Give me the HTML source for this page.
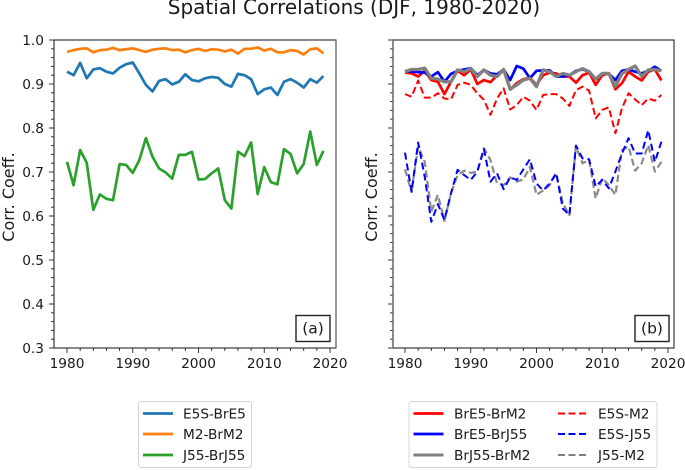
<!DOCTYPE html>
<html>
<head>
<meta charset="utf-8">
<title>Spatial Correlations</title>
<style>
html,body{margin:0;padding:0;background:#fff;}
svg{display:block;}
text{font-family:"DejaVu Sans","Liberation Sans",sans-serif;fill:#1a1a1a;}
</style>
</head>
<body>
<svg id="chart" xmlns="http://www.w3.org/2000/svg" width="685" height="470" viewBox="0 0 685 470">
  <text x="354" y="14" font-size="20" text-anchor="middle">Spatial Correlations (DJF, 1980-2020)</text>
  <g id="panelA"></g>
  <g id="panelB"></g>
  <g id="legendA"></g>
  <g id="legendB"></g>
</svg>
<script>
const startYear = 1980;
const xTickLabels = [1980, 1990, 2000, 2010, 2020];
const yTickLabels = ['0.3', '0.4', '0.5', '0.6', '0.7', '0.8', '0.9', '1.0'];

const e5sBre5 = [.928,.920,.948,.913,.933,.936,.928,.924,.937,.945,.949,.924,.898,.883,.907,.911,.899,.905,.922,.909,.906,.913,.916,.914,.900,.894,.923,.920,.911,.877,.888,.892,.875,.905,.911,.903,.892,.911,.903,.918];
const m2Brm2 = [.973,.977,.980,.981,.972,.977,.978,.982,.977,.979,.981,.977,.973,.978,.980,.981,.977,.978,.972,.977,.980,.975,.979,.978,.974,.978,.969,.980,.980,.983,.976,.980,.972,.972,.977,.975,.967,.979,.981,.970];
const j55Brj55 = [.723,.670,.750,.721,.614,.649,.639,.636,.718,.716,.698,.727,.777,.735,.708,.699,.685,.739,.739,.746,.683,.684,.697,.708,.636,.617,.746,.736,.767,.650,.711,.677,.672,.752,.741,.697,.718,.792,.716,.748];

const bre5Brm2 = [.926,.924,.917,.930,.909,.905,.877,.905,.930,.920,.933,.900,.909,.904,.920,.933,.888,.902,.911,.914,.898,.920,.926,.924,.917,.917,.903,.920,.926,.898,.920,.924,.888,.902,.928,.917,.908,.928,.933,.908];
const bre5Brj55 = [.930,.928,.927,.926,.917,.927,.905,.923,.930,.933,.936,.920,.932,.924,.922,.933,.909,.941,.935,.913,.930,.931,.931,.917,.917,.920,.930,.933,.928,.911,.924,.923,.909,.930,.933,.928,.924,.930,.939,.930];
const brj55Brm2 = [.928,.933,.933,.936,.913,.911,.905,.905,.932,.928,.935,.917,.932,.920,.917,.933,.888,.898,.909,.913,.894,.932,.928,.917,.924,.920,.928,.935,.928,.911,.924,.924,.895,.924,.933,.941,.917,.932,.933,.930];
const e5sM2 = [.877,.871,.908,.869,.869,.879,.867,.865,.898,.903,.898,.879,.864,.830,.867,.890,.842,.852,.871,.862,.841,.875,.877,.877,.867,.850,.886,.894,.885,.822,.841,.847,.788,.845,.879,.865,.852,.867,.862,.875];
const e5sJ55 = [.744,.655,.767,.689,.587,.627,.591,.652,.705,.693,.682,.701,.752,.678,.697,.661,.688,.682,.706,.729,.674,.658,.674,.697,.617,.602,.760,.731,.729,.667,.682,.663,.701,.742,.777,.742,.742,.795,.723,.769];
const j55M2 = [.706,.655,.758,.723,.610,.648,.589,.652,.693,.703,.698,.701,.754,.727,.674,.670,.688,.678,.683,.712,.648,.658,.670,.698,.629,.602,.758,.720,.727,.640,.686,.670,.648,.750,.758,.703,.720,.761,.701,.723];

const NS = 'http://www.w3.org/2000/svg';
const yOf = v => 40 + (1.0 - v) * 440;
const xA = yr => 67 + (yr - 1980) * 6.575;
const xB = yr => 405 + (yr - 1980) * 6.575;

function mk(parent, tag, attrs, txt) {
  const el = document.createElementNS(NS, tag);
  for (const k in attrs) el.setAttribute(k, attrs[k]);
  if (txt !== undefined) el.textContent = txt;
  parent.appendChild(el);
  return el;
}

function drawAxes(g, left, right, xf, showY, leftCol, rightCol, leftW, rightW) {
  const top = 40, bottom = 348;
  for (let yr = 1980; yr <= 2020; yr += 2) {
    const major = (yr % 10 === 0);
    const t = mk(g, 'line', {x1: xf(yr), x2: xf(yr), y1: bottom, y2: bottom + (major ? 5 : 3), stroke: '#222', 'stroke-width': 0.9});
    
    
  }
  xTickLabels.forEach(lab => {
    const t = mk(g, 'text', {x: xf(lab), y: 368, 'font-size': 13.7, 'text-anchor': 'middle'}, String(lab));
    
    
  });
  for (let i = 0; i <= 35; i++) {
    const v = 0.3 + i * 0.02;
    const major = (i % 5 === 0);
    const t = mk(g, 'line', {x1: left - (major ? 5 : 3), x2: left, y1: yOf(v), y2: yOf(v), stroke: '#222', 'stroke-width': 0.9});
    
    
  }
  if (showY) {
    yTickLabels.forEach(lab => {
      const t = mk(g, 'text', {x: 44, y: yOf(parseFloat(lab)) + 5, 'font-size': 13.7, 'text-anchor': 'end'}, lab);
      
      
    });
  }
  const tx = showY ? 14 : 377;
  const yl = mk(g, 'text', {x: tx, y: 197, 'font-size': 16, 'text-anchor': 'middle', transform: 'rotate(-90 ' + tx + ' 197)'}, 'Corr. Coeff.');
  
  

  const sT = mk(g, 'line', {x1: left - 0.5, x2: right + 0.5, y1: top, y2: top, stroke: '#111', 'stroke-width': 1});
  
  
  const sB = mk(g, 'line', {x1: left - 0.5, x2: right + 0.5, y1: bottom, y2: bottom, stroke: '#111', 'stroke-width': 1});
  
  
  const sL = mk(g, 'line', {x1: left, x2: left, y1: top, y2: bottom, stroke: leftCol, 'stroke-width': leftW});
  
  
  const sR = mk(g, 'line', {x1: right, x2: right, y1: top, y2: bottom, stroke: rightCol, 'stroke-width': rightW});
  
  
}

function drawSeries(g, values, xf, color, width, dash, name) {
  const pts = values.map((v, i) => xf(startYear + i).toFixed(2) + ',' + yOf(v).toFixed(2)).join(' ');
  const attrs = {points: pts, fill: 'none', stroke: color, 'stroke-width': width, 'stroke-linejoin': 'round'};
  if (dash) attrs['stroke-dasharray'] = dash;
  const p = mk(g, 'polyline', attrs);
  
  
}

function drawPanelLabel(g, x, txt, name) {
  const b = mk(g, 'rect', {x: x, y: 315.5, width: 34, height: 26, fill: '#fff', stroke: '#222', 'stroke-width': 1.4});
  
  
  const t = mk(g, 'text', {x: x + 17, y: 333.5, 'font-size': 15.5, 'text-anchor': 'middle'}, txt);
  
  
}

function legendEntry(g, x, y, color, width, dash, label, textX, name) {
  const attrs = {x1: x, x2: x + 30, y1: y, y2: y, stroke: color, 'stroke-width': width};
  if (dash) attrs['stroke-dasharray'] = dash;
  const l = mk(g, 'line', attrs);
  
  
  const t = mk(g, 'text', {x: textX, y: y + 5, 'font-size': 13.7}, label);
  
  
}

function legendBox(g, x, w) {
  const r = mk(g, 'rect', {x: x, y: 401.5, width: w, height: 66, rx: 2.5, ry: 2.5, fill: '#fff', stroke: '#d5d5d5', 'stroke-width': 1});
  
  
}

const gA = document.getElementById('panelA');
const gB = document.getElementById('panelB');

drawSeries(gA, e5sBre5, xA, '#1f77b4', 2.7, null, 'line-e5s-bre5');
drawSeries(gA, m2Brm2, xA, '#ff7f0e', 2.7, null, 'line-m2-brm2');
drawSeries(gA, j55Brj55, xA, '#2ca02c', 2.7, null, 'line-j55-brj55');
drawAxes(gA, 54, 336, xA, true, '#111', '#777', 1, 1.5);
drawPanelLabel(gA, 296, '(a)', 'panel-label-a');

drawSeries(gB, bre5Brm2, xB, '#ff0000', 2.7, null, 'line-bre5-brm2');
drawSeries(gB, bre5Brj55, xB, '#0000ff', 2.7, null, 'line-bre5-brj55');
drawSeries(gB, brj55Brm2, xB, '#808080', 3.3, null, 'line-brj55-brm2');
drawSeries(gB, e5sM2, xB, '#ff0000', 2, '7,3.5', 'line-e5s-m2');
drawSeries(gB, j55M2, xB, '#8a8a8a', 2.2, '7,3.5', 'line-j55-m2');
drawSeries(gB, e5sJ55, xB, '#0000ff', 2, '7,4', 'line-e5s-j55');
drawAxes(gB, 393, 674, xB, false, '#666', '#111', 1.5, 1);
drawPanelLabel(gB, 635, '(b)', 'panel-label-b');

const lA = document.getElementById('legendA');
legendBox(lA, 138.5, 113);
legendEntry(lA, 143, 413.5, '#1f77b4', 2.7, null, 'E5S-BrE5', 183, 'legend-e5s-bre5');
legendEntry(lA, 143, 434, '#ff7f0e', 2.7, null, 'M2-BrM2', 183, 'legend-m2-brm2');
legendEntry(lA, 143, 455, '#2ca02c', 2.7, null, 'J55-BrJ55', 183, 'legend-j55-brj55');

const lB = document.getElementById('legendB');
legendBox(lB, 409, 248);
legendEntry(lB, 413.5, 413.5, '#ff0000', 2.7, null, 'BrE5-BrM2', 454, 'legend-bre5-brm2');
legendEntry(lB, 413.5, 434, '#0000ff', 2.7, null, 'BrE5-BrJ55', 454, 'legend-bre5-brj55');
legendEntry(lB, 413.5, 455, '#808080', 3, null, 'BrJ55-BrM2', 454, 'legend-brj55-brm2');
legendEntry(lB, 558, 413.5, '#ff0000', 2, '7,3.5', 'E5S-M2', 598, 'legend-e5s-m2');
legendEntry(lB, 558, 434, '#0000ff', 2, '7,3.5', 'E5S-J55', 598, 'legend-e5s-j55');
legendEntry(lB, 558, 455, '#808080', 2, '7,3.5', 'J55-M2', 598, 'legend-j55-m2');
</script>
</body>
</html>
